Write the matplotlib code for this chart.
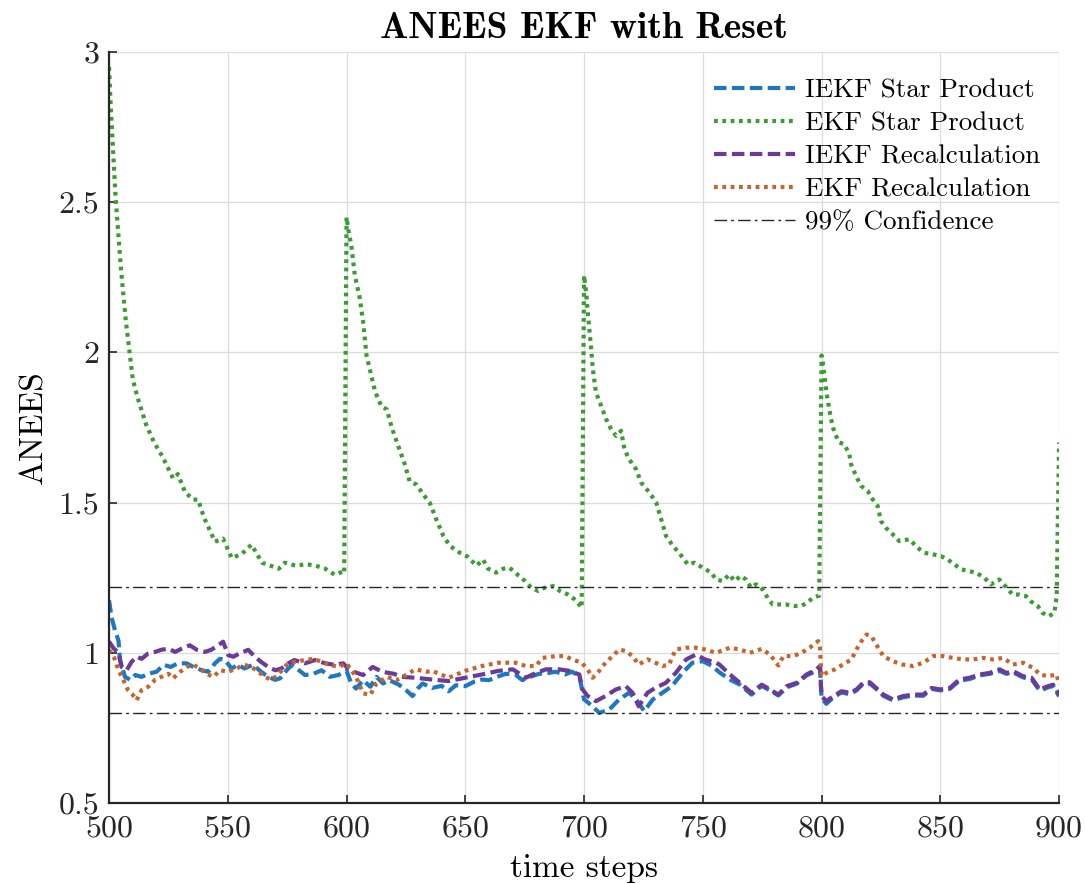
import matplotlib
matplotlib.use("Agg")
import matplotlib.pyplot as plt

# ---------------- data ----------------
t_ekf_star = [500, 500.7, 502.8, 505, 507, 508.5, 510, 512, 515.6, 519, 522.7, 527, 529, 532,
              535.4, 537.5, 540, 544.6, 548, 551.7, 556, 560, 564.4, 568, 571.5, 574, 578.6,
              583, 587, 591, 595, 598.4, 599,
              600, 600.7, 602, 603.5, 605.6, 607, 608.4, 610.5, 612, 614.7, 617, 619, 621.7,
              624.5, 626.6, 629.5, 632, 635, 638, 640.7, 643.5, 647.7, 651, 654.7, 657.5,
              659.6, 663, 666, 668.7, 672, 675, 677.8, 680.6, 683.5, 687, 689.8, 693, 696,
              698, 699,
              700, 701, 701.6, 702.3, 703, 703.7, 705, 707.2, 709.3, 711.4, 713.5, 715.6, 717,
              719, 722, 724, 727.6, 730.4, 732.5, 734.5, 737.4, 740, 743.7, 746.5, 750, 753.5,
              755.6, 758.4, 761.2, 763.3, 766, 768.2, 770.3, 772.4, 775.2, 777.3, 779.4, 782.2,
              785, 788.5, 791.4, 794, 796.3, 798.4, 799,
              800, 800.5, 801.2, 802, 802.6, 804, 805.4, 807.5, 809.6, 811.7, 812.4, 814.5,
              816.6, 819.4, 821.5, 823.6, 825, 827, 830, 832.7, 837, 840.4, 843.3, 846.8,
              850.3, 853, 856, 858.7, 862, 865, 868.5, 871.3, 874.8, 877.6, 880.4, 883.2, 886,
              888, 891, 893, 895.8, 898, 899, 900]
v_ekf_star = [2.95, 2.82, 2.51, 2.28, 2.11, 2.01, 1.91, 1.85, 1.76, 1.70, 1.65, 1.58, 1.595, 1.535,
              1.51, 1.51, 1.45, 1.37, 1.38, 1.315, 1.33, 1.36, 1.30, 1.29, 1.28, 1.30, 1.29,
              1.295, 1.29, 1.28, 1.26, 1.27, 1.265,
              2.45, 2.41, 2.356, 2.256, 2.18, 2.10, 1.99, 1.92, 1.87, 1.82, 1.81, 1.75, 1.69,
              1.628, 1.57, 1.56, 1.53, 1.50, 1.44, 1.39, 1.356, 1.333, 1.32, 1.29, 1.31,
              1.28, 1.267, 1.28, 1.283, 1.26, 1.24, 1.217, 1.206, 1.217, 1.222, 1.206, 1.195, 1.178,
              1.16, 1.15,
              2.256, 2.19, 2.13, 2.07, 2.01, 1.944, 1.867, 1.822, 1.778, 1.744, 1.722, 1.739, 1.678,
              1.644, 1.61, 1.567, 1.533, 1.50, 1.444, 1.389, 1.356, 1.333, 1.294, 1.30, 1.283, 1.267,
              1.244, 1.239, 1.261, 1.239, 1.256, 1.244, 1.217, 1.228, 1.211, 1.183, 1.161, 1.161,
              1.161, 1.156, 1.156, 1.167, 1.183, 1.189, 1.19,
              1.99, 1.967, 1.922, 1.872, 1.84, 1.778, 1.733, 1.70, 1.694, 1.661, 1.628, 1.589,
              1.556, 1.539, 1.511, 1.489, 1.439, 1.417, 1.394, 1.372, 1.378, 1.35, 1.333, 1.328,
              1.322, 1.311, 1.294, 1.278, 1.272, 1.267, 1.25, 1.228, 1.244, 1.22, 1.194, 1.194, 1.189,
              1.172, 1.156, 1.133, 1.122, 1.133, 1.189, 1.70]

t_iekf_star = [500, 501, 502.5, 504, 504.6, 506.7, 509, 511, 513.7, 516.5, 520, 523, 526, 529,
               532.7, 535.5, 539, 541.8, 544.6, 546.7, 548.8, 551.6, 554.4, 557, 560.7, 564, 567,
               570, 572, 574.8, 577, 579, 582.5, 586, 589.5, 593, 596.5, 600, 602, 604, 607, 610,
               612.6, 615.4, 618, 622, 625, 627.8, 630, 632, 636, 640, 643, 646, 650, 654, 657,
               660, 664, 667, 671, 674, 678, 681, 685, 688, 692, 695, 698, 700, 703.6, 706.4,
               710.6, 714.8, 719, 722.5, 725.3, 729, 733, 737, 741.4, 745.6, 750, 754, 757,
               761.4, 765.6, 770.5, 774.8, 778.3, 781.8, 785.3, 789.5, 793.7, 797.9, 799.3, 800,
               802, 805, 808.4, 812, 814.7, 817.5, 820.3, 823, 826, 830, 834.4, 838.6, 842.8,
               846.3, 850, 854, 858, 862.4, 866.6, 870.8, 875, 877.8, 880.6, 884.9, 888.4, 891.9,
               895.4, 897.5, 900]
v_iekf_star = [1.175, 1.12, 1.075, 1.04, 0.976, 0.92, 0.91, 0.926, 0.92, 0.93, 0.937, 0.96, 0.953, 0.965,
               0.965, 0.953, 0.942, 0.937, 0.965, 0.98, 0.976, 0.948, 0.96, 0.948, 0.96, 0.937, 0.92,
               0.91, 0.915, 0.942, 0.96, 0.948, 0.926, 0.93, 0.942, 0.92, 0.926, 0.94, 0.898, 0.881,
               0.909, 0.887, 0.92, 0.898, 0.909, 0.894, 0.876, 0.856, 0.881, 0.898, 0.883, 0.89,
               0.872, 0.892, 0.889, 0.905, 0.911, 0.909, 0.922, 0.93, 0.928, 0.909, 0.922, 0.93,
               0.933, 0.937, 0.928, 0.937, 0.922, 0.845, 0.822, 0.80, 0.811, 0.845, 0.867, 0.839,
               0.806, 0.845, 0.867, 0.889, 0.933, 0.967, 0.972, 0.956, 0.935, 0.911, 0.894, 0.861,
               0.89, 0.875, 0.858, 0.885, 0.897, 0.925, 0.94, 0.95, 0.85, 0.83, 0.852, 0.868, 0.862,
               0.875, 0.897, 0.898, 0.88, 0.857, 0.842, 0.852, 0.858, 0.857, 0.88, 0.875, 0.88,
               0.907, 0.913, 0.925, 0.93, 0.94, 0.93, 0.935, 0.918, 0.912, 0.874, 0.885, 0.89, 0.855]

t_iekf_rec = [500, 502, 504, 505.3, 507.4, 509.5, 511.6, 513.7, 516.5, 519.4, 522, 525, 527.8,
              530.6, 534, 537, 540.4, 543, 546, 548, 550.2, 552.3, 555, 558.6, 561.4, 564, 567,
              570, 572.6, 575.5, 578, 582.5, 586.7, 591, 595, 598.6, 600, 603, 607, 611, 615,
              620, 623, 629, 636, 643, 650, 657, 664, 670, 675.5, 679.7, 684, 689.5, 693.7, 698,
              699.4, 701.5, 705, 709, 713.4, 717.6, 720.4, 723, 726.7, 730, 734.4, 738.6, 743,
              747, 751, 755.5, 757, 761.4, 765.6, 770.5, 774.8, 778.3, 781.8, 785.3, 789.5,
              793.7, 797.9, 799.3, 800, 802, 805, 808.4, 812, 814.7, 817.5, 820.3, 823, 826, 830,
              834.4, 838.6, 842.8, 846.3, 850, 854, 858, 862.4, 866.6, 870.8, 875, 877.8, 880.6,
              884.9, 888.4, 891.9, 895.4, 897.5, 900]
v_iekf_rec = [1.037, 1.014, 1.0, 0.953, 0.942, 0.97, 0.987, 0.98, 0.998, 1.003, 1.01, 1.014, 1.003,
              1.014, 1.025, 1.01, 1.003, 1.01, 1.025, 1.037, 0.992, 0.987, 0.998, 1.01, 0.987, 0.97,
              0.953, 0.942, 0.948, 0.965, 0.976, 0.965, 0.976, 0.965, 0.96, 0.965, 0.953, 0.937,
              0.926, 0.953, 0.937, 0.93, 0.92, 0.917, 0.911, 0.906, 0.917, 0.928, 0.94, 0.945,
              0.917, 0.933, 0.945, 0.945, 0.94, 0.928, 0.878, 0.856, 0.839, 0.856, 0.878, 0.889,
              0.867, 0.822, 0.867, 0.883, 0.9, 0.933, 0.978, 0.994, 0.978, 0.967, 0.961, 0.928,
              0.9, 0.867, 0.894, 0.878, 0.861, 0.889, 0.9, 0.928, 0.945, 0.956, 0.856, 0.839,
              0.856, 0.872, 0.867, 0.878, 0.9, 0.902, 0.883, 0.861, 0.845, 0.856, 0.861, 0.861,
              0.883, 0.878, 0.883, 0.911, 0.917, 0.928, 0.933, 0.945, 0.933, 0.939, 0.922, 0.917,
              0.878, 0.889, 0.894, 0.861]

t_ekf_rec = [500, 502, 504, 506, 508, 510, 511.6, 513.7, 516.5, 519.4, 522, 525, 527, 530, 532.7,
             535.5, 538.3, 541, 544, 546.7, 550.2, 553.7, 557, 560, 562.8, 565.6, 568.4, 571,
             574.8, 578, 582.5, 586, 589.5, 593, 596.5, 600, 604, 607, 610, 612.6, 617, 621, 625,
             629, 633.6, 636, 643, 650, 657, 664, 671, 675.5, 679.7, 682.5, 688, 692, 695, 699,
             701.5, 703.6, 706.4, 709, 712, 714.8, 717.6, 720.4, 723, 726.7, 730, 733, 735.8,
             738.6, 742.8, 747, 751, 755.5, 761.4, 765.6, 769.8, 774.8, 778.3, 781.8, 783.9, 788,
             791.6, 795, 798.6, 799.3, 800, 802, 805.6, 809, 812.6, 814.7, 816.8, 819, 821, 823,
             826, 830, 834, 838.6, 842.8, 847, 851, 855.4, 859.6, 863.8, 868, 872, 876.4, 880.6,
             884.9, 889, 892, 895.4, 899, 900]
v_ekf_rec = [1.01, 0.987, 0.942, 0.91, 0.876, 0.86, 0.842, 0.876, 0.887, 0.91, 0.92, 0.93, 0.915,
             0.937, 0.953, 0.96, 0.948, 0.93, 0.92, 0.942, 0.937, 0.948, 0.96, 0.953, 0.937, 0.92,
             0.91, 0.926, 0.96, 0.97, 0.976, 0.98, 0.97, 0.96, 0.953, 0.965, 0.92, 0.865, 0.86,
             0.898, 0.92, 0.909, 0.926, 0.945, 0.937, 0.94, 0.917, 0.94, 0.956, 0.967, 0.967,
             0.956, 0.956, 0.983, 0.989, 0.989, 0.978, 0.967, 0.945, 0.917, 0.94, 0.967, 0.989,
             1.011, 1.006, 0.989, 0.961, 0.978, 0.967, 0.956, 0.961, 1.011, 1.017, 1.017, 1.011,
             1.0, 1.017, 1.011, 1.0, 1.013, 0.994, 0.958, 0.989, 0.989, 1.0, 1.017, 1.039, 1.017,
             0.922, 0.933, 0.945, 0.961, 0.978, 1.011, 1.039, 1.061, 1.055, 1.028, 0.989, 0.972,
             0.961, 0.956, 0.967, 0.989, 0.989, 0.983, 0.978, 0.978, 0.983, 0.978, 0.983, 0.961,
             0.967, 0.95, 0.928, 0.922, 0.928, 0.894]

conf_bounds = [0.80, 1.22]
x_ticks = [500, 550, 600, 650, 700, 750, 800, 850, 900]
y_ticks = [0.5, 1.0, 1.5, 2.0, 2.5, 3.0]
y_tick_labels = ["0.5", "1", "1.5", "2", "2.5", "3"]
labels = ["IEKF Star Product", "EKF Star Product", "IEKF Recalculation",
          "EKF Recalculation", "99% Confidence"]

# ---------------- style ----------------
plt.rcParams['font.family'] = ['cmr10', 'DejaVu Serif']
plt.rcParams['mathtext.fontset'] = 'cm'
plt.rcParams['axes.formatter.use_mathtext'] = True

c_blue = '#1f78bf'
c_green = '#3a9c32'
c_purple = '#6a3b98'
c_orange = '#c8642a'

fig = plt.figure(figsize=(10.85, 8.84), dpi=100)
ax = fig.add_axes([0.1005, 0.0916, 0.8756, 0.8496])

lw = 3.0
dash = (0, (3.0, 1.3))
dots = (0, (0.9, 1.1))
ax.plot(t_iekf_star, v_iekf_star, color=c_blue, ls=dash, lw=lw, label=labels[0])
ax.plot(t_ekf_star, v_ekf_star, color=c_green, ls=dots, lw=lw, label=labels[1])
ax.plot(t_iekf_rec, v_iekf_rec, color=c_purple, ls=dash, lw=lw, label=labels[2])
ax.plot(t_ekf_rec, v_ekf_rec, color=c_orange, ls=dots, lw=lw, label=labels[3])
ax.axhline(conf_bounds[1], color='#262626', ls=(0, (9, 3, 2, 3)), lw=1.0, label=labels[4])
ax.axhline(conf_bounds[0], color='#262626', ls=(0, (9, 3, 2, 3)), lw=1.0)

ax.set_xlim(500, 900)
ax.set_ylim(0.5, 3.0)
ax.set_xticks(x_ticks)
ax.set_xticklabels([str(v) for v in x_ticks])
ax.set_yticks(y_ticks)
ax.set_yticklabels(y_tick_labels)
ax.grid(True, color='#dcdcdc', lw=0.9)
ax.set_axisbelow(True)
for s in ['top', 'right']:
    ax.spines[s].set_visible(False)
for s in ['left', 'bottom']:
    ax.spines[s].set_linewidth(1.6)
    ax.spines[s].set_color('#262626')
ax.tick_params(direction='in', length=6, width=1.2, labelsize=23, colors='#262626')
ax.tick_params(axis='x', pad=9)
ax.tick_params(axis='y', pad=7)

ax.set_xlabel('time steps', fontsize=24, labelpad=8)
ax.set_ylabel('ANEES', fontsize=24, labelpad=7)
ax.set_title('ANEES EKF with Reset', fontsize=27, family='cmb10', pad=10)

leg = ax.legend(loc='upper right', bbox_to_anchor=(1.0, 0.99), frameon=False, fontsize=19.5,
                handlelength=3.0, handletextpad=0.35, labelspacing=0.33, borderaxespad=0.3)

fig.savefig('out.png', dpi=100)
